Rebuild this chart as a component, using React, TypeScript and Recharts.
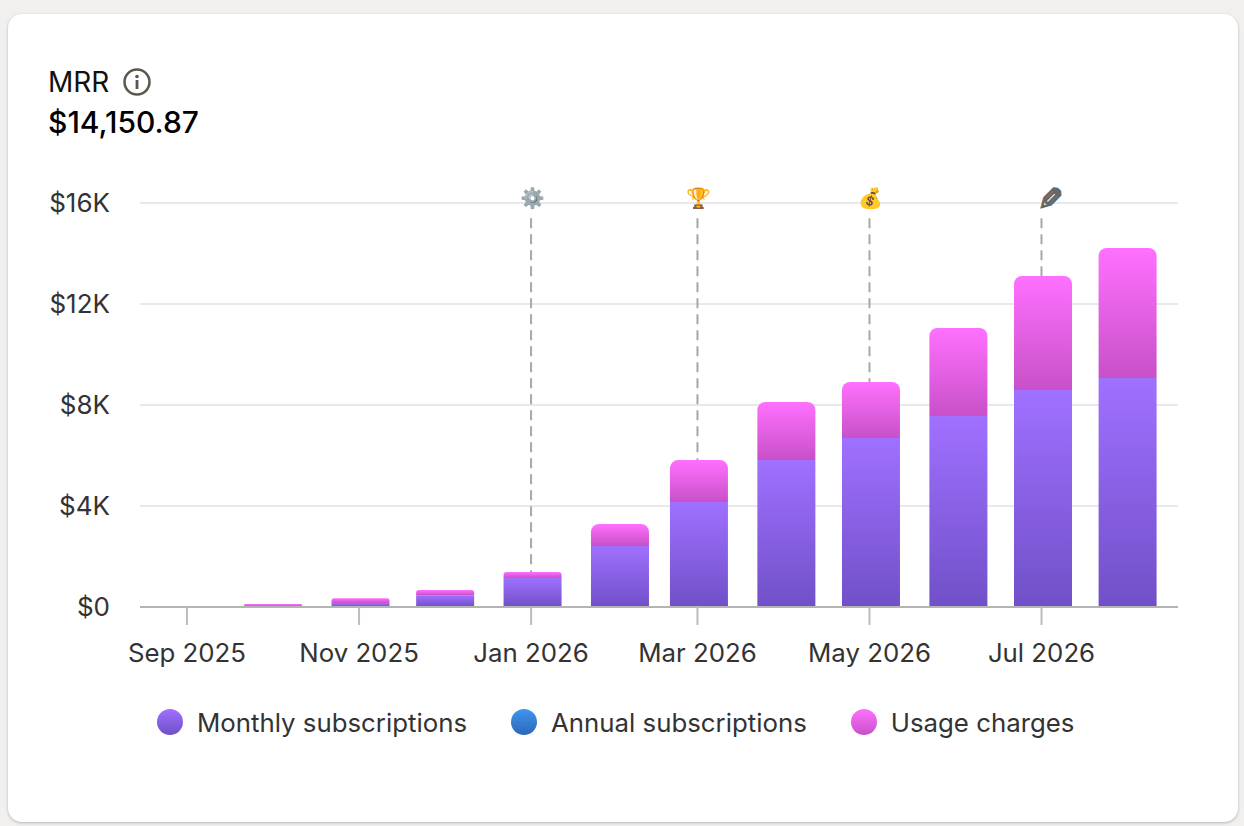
import React from "react";
import { Bar, BarChart, CartesianGrid, Legend, ReferenceDot, ReferenceLine, XAxis, YAxis } from "recharts";

const DAY = 86400000;

const months = ["2025-09-01", "2025-10-01", "2025-11-01", "2025-12-01", "2026-01-01", "2026-02-01", "2026-03-01", "2026-04-01", "2026-05-01", "2026-06-01", "2026-07-01", "2026-07-31"];
const monthlySubscriptions = [0, 20, 160, 470, 1150, 2420, 4160, 5820, 6690, 7560, 8590, 9070];
const annualSubscriptions = [0, 0, 0, 0, 0, 0, 0, 0, 0, 0, 0, 0];
const usageCharges = [0, 100, 190, 200, 240, 870, 1660, 2300, 2220, 3490, 4520, 5150];

const xTicks = ["2025-09-01", "2025-11-01", "2026-01-01", "2026-03-01", "2026-05-01", "2026-07-01"];
const xTickLabels = ["Sep 2025", "Nov 2025", "Jan 2026", "Mar 2026", "May 2026", "Jul 2026"];
const yTicks = [0, 4000, 8000, 12000, 16000];

const annotationDates = ["2026-01-01", "2026-03-01", "2026-05-01", "2026-07-01"];
const annotationEmoji = ["⚙️", "🏆", "💰", "✎"];
const annotationTops = [1390, 5820, 8910, 13110];

const toMs = (d: string) => new Date(d + "T00:00:00Z").getTime();

const data = months.map((m, i) => ({
  date: toMs(m),
  monthly: monthlySubscriptions[i],
  annual: annualSubscriptions[i],
  usage: usageCharges[i],
}));

const start = toMs("2025-09-01");
const tickDomain = [start - 16.67 * DAY, start + 351.4 * DAY];
// bars sit a touch right of their tick in the original
const barDomain = [tickDomain[0] - 0.7 * DAY, tickDomain[1] - 0.7 * DAY];

const formatY = (v: number) => (v === 0 ? "$0" : `$${v / 1000}K`);
const formatX = (v: number) => xTickLabels[xTicks.map(toMs).indexOf(v)] ?? "";

const legendItems = [
  { name: "Monthly subscriptions", from: "#a070ff", to: "#7050c8", gap: 44 },
  { name: "Annual subscriptions", from: "#4095f0", to: "#2c68b8", gap: 44 },
  { name: "Usage charges", from: "#ff70ff", to: "#c850c8", gap: 0 },
];

function ChartLegend() {
  return (
    <div style={{ display: "flex", paddingLeft: 157, fontSize: 25.8, color: "#333", alignItems: "center", height: 60 }}>
      {legendItems.map((item) => (
        <div key={item.name} style={{ display: "flex", alignItems: "center", marginRight: item.gap }}>
          <span
            style={{
              width: 26,
              height: 26,
              borderRadius: 13,
              marginRight: 14,
              background: `linear-gradient(${item.from}, ${item.to})`,
            }}
          />
          {item.name}
        </div>
      ))}
    </div>
  );
}

const emojiShape = (i: number) => (props: any) => {
  if (i === 3) {
    // the pencil is a flat grey glyph leaning the other way
    return (
      <text
        transform={`translate(${props.cx + 9},${props.cy - 4}) scale(-1,1)`}
        textAnchor="middle"
        dominantBaseline="central"
        fontSize={31}
        fontFamily="DejaVu Sans"
        fill="#666"
        stroke="#666"
        strokeWidth={1.2}
      >
        {annotationEmoji[i]}
      </text>
    );
  }
  return (
    <text
      x={props.cx + [1, 1, 1][i]}
      y={props.cy - 5}
      textAnchor="middle"
      dominantBaseline="central"
      fontSize={20}
      style={i === 0 ? { filter: "grayscale(0.7)" } : undefined}
    >
      {annotationEmoji[i]}
    </text>
  );
};

export default function App() {
  return (
    <div style={{ position: "absolute", left: 0, top: 0, width: 1244, height: 826, background: "#f2f0ee", fontFamily: "Inter", overflow: "hidden" }}>
      <div style={{ position: "absolute", left: 8, top: 14, width: 1230, height: 808, background: "#fff", borderRadius: 14, boxShadow: "0 1px 3px rgba(0,0,0,0.25)" }} />
      <div style={{ position: "absolute", left: 48, top: 66, fontSize: 28, lineHeight: "32px", color: "#111" }}>MRR</div>
      <svg style={{ position: "absolute", left: 122, top: 67 }} width={30} height={30} viewBox="0 0 30 30">
        <circle cx={15} cy={15} r={12.5} fill="none" stroke="#5c564c" strokeWidth={2.5} />
        <circle cx={15} cy={9.5} r={1.8} fill="#5c564c" />
        <rect x={13.6} y={13} width={2.8} height={9} fill="#5c564c" />
      </svg>
      <div style={{ position: "absolute", left: 48, top: 105, fontSize: 30, lineHeight: "34px", fontWeight: 500, color: "#000" }}>$14,150.87</div>

      <div style={{ position: "absolute", left: 0, top: 0 }}>
        <BarChart width={1244} height={826} data={data} margin={{ top: 203, right: 66, bottom: 99, left: 0 }} barSize={58}>
          <defs>
            <linearGradient id="gradMonthly" x1="0" y1="0" x2="0" y2="1">
              <stop offset="0%" stopColor="#a070ff" />
              <stop offset="100%" stopColor="#7050c8" />
            </linearGradient>
            <linearGradient id="gradAnnual" x1="0" y1="0" x2="0" y2="1">
              <stop offset="0%" stopColor="#4095f0" />
              <stop offset="100%" stopColor="#2c68b8" />
            </linearGradient>
            <linearGradient id="gradUsage" x1="0" y1="0" x2="0" y2="1">
              <stop offset="0%" stopColor="#ff70ff" />
              <stop offset="100%" stopColor="#c850c8" />
            </linearGradient>
          </defs>
          <CartesianGrid xAxisId="ticks" vertical={false} stroke="#e9e9e9" strokeWidth={2} />
          <XAxis
            xAxisId="ticks"
            dataKey="date"
            type="number"
            domain={tickDomain}
            ticks={xTicks.map(toMs)}
            tickFormatter={formatX}
            allowDataOverflow
            interval={0}
            height={60}
            tickSize={18}
            tickMargin={19}
            tick={{ fontSize: 25.8, fill: "#333" }}
            tickLine={{ stroke: "#bdbdbd", strokeWidth: 2 }}
            axisLine={{ stroke: "#b4b4b4", strokeWidth: 2 }}
          />
          <XAxis xAxisId="bars" dataKey="date" type="number" domain={barDomain} allowDataOverflow hide height={0} />
          <YAxis
            domain={[0, 16000]}
            ticks={yTicks}
            tickFormatter={formatY}
            width={140}
            tickSize={0}
            tickMargin={30}
            axisLine={false}
            tick={{ fontSize: 26, fill: "#333" }}
          />
          <Legend verticalAlign="bottom" height={60} wrapperStyle={{ bottom: 74, left: 0, width: 1244 }} content={() => <ChartLegend />} />
          {annotationDates.map((d, i) => (
            <ReferenceLine
              key={d}
              xAxisId="ticks"
              segment={[{ x: toMs(d), y: 15400 }, { x: toMs(d), y: annotationTops[i] }]}
              stroke="#a8a8a8"
              strokeWidth={2}
              strokeDasharray="10 6"
            />
          ))}
          {annotationDates.map((d, i) => (
            <ReferenceDot key={d} xAxisId="ticks" x={toMs(d)} y={16000} r={0} shape={emojiShape(i)} />
          ))}
          <Bar xAxisId="bars" dataKey="monthly" name="Monthly subscriptions" stackId="mrr" fill="url(#gradMonthly)" isAnimationActive={false} />
          <Bar xAxisId="bars" dataKey="annual" name="Annual subscriptions" stackId="mrr" fill="url(#gradAnnual)" isAnimationActive={false} />
          <Bar xAxisId="bars" dataKey="usage" name="Usage charges" stackId="mrr" fill="url(#gradUsage)" radius={[8, 8, 0, 0]} isAnimationActive={false} />
        </BarChart>
      </div>
    </div>
  );
}
